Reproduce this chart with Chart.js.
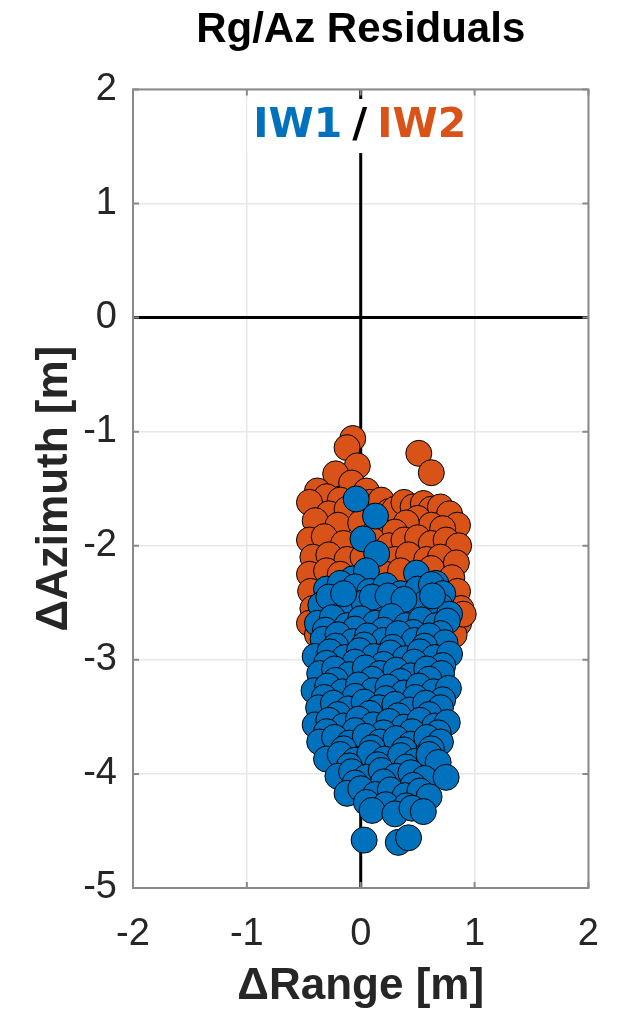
<!DOCTYPE html>
<html>
<head>
<meta charset="utf-8">
<script src="https://cdn.jsdelivr.net/npm/chart.js@4.4.1/dist/chart.umd.min.js"></script>
<style>
  html, body { margin: 0; padding: 0; background: #fff; }
  #wrap { width: 623px; height: 1009px; }
</style>
</head>
<body>
<div id="wrap"><canvas id="chart"></canvas></div>
<script>
// residuals, [range, azimuth] in metres
const iw1Range = [
  -0.04, 0.13, 0.02, 0.14, -0.07, 0.49, 0.66, 0.05,
  -0.3, -0.18, -0.05, 0.08, 0.22, 0.35, 0.5, 0.62, 0.72,
  -0.35, -0.22, -0.1, 0.03, 0.16, 0.3, 0.43, 0.57, 0.7, 0.78,
  -0.28, -0.15, 0.1, 0.24, 0.38, 0.63,
  -0.38, -0.25, -0.12, 0.0, 0.13, 0.27, 0.4, 0.53, 0.66, 0.76,
  -0.31, -0.05, 0.2, 0.46, 0.7,
  -0.33, -0.2, -0.07, 0.06, 0.2, 0.33, 0.47, 0.6, 0.74,
  -0.22, 0.03, 0.28, 0.56,
  -0.4, -0.27, -0.14, -0.01, 0.12, 0.26, 0.39, 0.52, 0.65, 0.78,
  -0.3, -0.05, 0.2, 0.47, 0.72,
  -0.36, -0.23, -0.1, 0.04, 0.17, 0.31, 0.44, 0.58, 0.71,
  -0.22, 0.1, 0.35, 0.6,
  -0.41, -0.29, -0.16, -0.02, 0.11, 0.24, 0.38, 0.51, 0.64, 0.77,
  -0.32, -0.05, 0.22, 0.48, 0.72,
  -0.37, -0.24, -0.11, 0.03, 0.16, 0.3, 0.43, 0.57, 0.7,
  -0.2, 0.08, 0.33, 0.6,
  -0.4, -0.28, -0.15, -0.02, 0.11, 0.25, 0.38, 0.52, 0.65, 0.76,
  -0.3, -0.05, 0.2, 0.45, 0.68,
  -0.36, -0.23, -0.1, 0.04, 0.17, 0.31, 0.44, 0.58, 0.7,
  -0.15, 0.1, 0.38, 0.62,
  -0.3, -0.18, -0.05, 0.08, 0.21, 0.35, 0.48, 0.6, 0.68,
  -0.1, 0.15, 0.4,
  -0.2, -0.08, 0.05, 0.18, 0.31, 0.44, 0.56, 0.75,
  -0.05, 0.2, 0.46,
  -0.12, 0.0, 0.13, 0.26, 0.39, 0.52, 0.6,
  0.05, 0.22, 0.4,
  0.1, 0.3, 0.45, 0.55,
  0.03, 0.33, 0.42
];
const iw1Azimuth = [
  -1.59, -1.74, -1.94, -2.07, -2.29, -2.24, -2.33, -2.22,
  -2.38, -2.33, -2.36, -2.4, -2.35, -2.42, -2.38, -2.34, -2.42,
  -2.52, -2.48, -2.55, -2.5, -2.53, -2.49, -2.55, -2.5, -2.53, -2.6,
  -2.45, -2.42, -2.45, -2.44, -2.47, -2.44,
  -2.68, -2.63, -2.7, -2.64, -2.68, -2.62, -2.7, -2.65, -2.7, -2.66,
  -2.74, -2.73, -2.74, -2.76, -2.77,
  -2.82, -2.78, -2.84, -2.79, -2.83, -2.77, -2.83, -2.79, -2.85,
  -2.88, -2.87, -2.89, -2.88,
  -2.97, -2.93, -2.98, -2.92, -2.97, -2.94, -2.99, -2.93, -2.98, -2.95,
  -3.03, -3.02, -3.04, -3.02, -3.05,
  -3.12, -3.08, -3.13, -3.07, -3.12, -3.09, -3.14, -3.08, -3.12,
  -3.18, -3.17, -3.19, -3.17,
  -3.27, -3.23, -3.28, -3.22, -3.27, -3.24, -3.29, -3.23, -3.28, -3.25,
  -3.33, -3.32, -3.34, -3.33, -3.35,
  -3.42, -3.38, -3.43, -3.37, -3.42, -3.39, -3.44, -3.38, -3.42,
  -3.48, -3.47, -3.49, -3.48,
  -3.57, -3.53, -3.58, -3.52, -3.57, -3.54, -3.59, -3.53, -3.58, -3.55,
  -3.63, -3.62, -3.64, -3.63, -3.64,
  -3.72, -3.68, -3.73, -3.67, -3.72, -3.69, -3.74, -3.68, -3.72,
  -3.78, -3.77, -3.79, -3.78,
  -3.87, -3.83, -3.88, -3.82, -3.87, -3.84, -3.89, -3.83, -3.9,
  -3.93, -3.92, -3.94,
  -4.02, -3.98, -4.03, -3.97, -4.02, -3.99, -4.04, -4.03,
  -4.08, -4.07, -4.1,
  -4.17, -4.13, -4.18, -4.14, -4.19, -4.15, -4.2,
  -4.25, -4.27, -4.28,
  -4.32, -4.35, -4.3, -4.33,
  -4.58, -4.6, -4.56
];
const iw2Range = [
  -0.07, -0.12, 0.51, 0.62,
  -0.03, -0.22, -0.08, 0.05, -0.38, -0.3, -0.18, -0.45, -0.28, -0.12, 0.08, 0.18, 0.25,
  -0.4, -0.2, 0.0, 0.15, 0.3, 0.38, 0.46, 0.55, 0.62, 0.7, 0.78, 0.85, 0.5, 0.62, 0.4, 0.3, 0.72,
  -0.45, -0.32, -0.15, 0.1, 0.25, 0.38, 0.5, 0.62, 0.75, 0.86,
  -0.42, -0.28, -0.12, 0.02, 0.3, 0.42, 0.58, 0.7, 0.84,
  -0.45, -0.3, -0.18, 0.22, 0.35, 0.62, 0.8,
  -0.44, -0.42, -0.45, -0.38, 0.85, 0.88, 0.86, 0.82, 0.9
];
const iw2Azimuth = [
  -1.06, -1.14, -1.19, -1.36,
  -1.3, -1.37, -1.45, -1.52, -1.52, -1.57, -1.6, -1.62, -1.72, -1.68, -1.62, -1.6, -1.7,
  -1.78, -1.82, -1.8, -1.82, -1.68, -1.62, -1.66, -1.63, -1.68, -1.66, -1.72, -1.82, -1.76, -1.82, -1.8, -1.88, -1.85,
  -1.95, -1.92, -1.98, -1.95, -2.0, -1.95, -1.93, -1.98, -1.95, -2.0,
  -2.1, -2.08, -2.12, -2.1, -2.12, -2.08, -2.12, -2.1, -2.15,
  -2.25, -2.22, -2.25, -2.25, -2.22, -2.2, -2.28,
  -2.4, -2.55, -2.68, -2.78, -2.4, -2.55, -2.68, -2.78, -2.6
];
const rangeTicks = [-2, -1, 0, 1, 2];
const azimuthTicks = [-5, -4, -3, -2, -1, 0, 1, 2];

const blue = "#0072BD";
const orange = "#D95319";

function toPoints(xs, ys) {
  return xs.map((x, i) => ({ x: x, y: ys[i] }));
}

// axes box, inward ticks, zero lines and the IW1/IW2 label like the matlab figure
const matlabAxes = {
  id: "matlabAxes",
  beforeDatasetsDraw(chart) {
    const { ctx, chartArea: a, scales } = chart;
    const x0 = scales.x.getPixelForValue(0);
    const y0 = scales.y.getPixelForValue(0);
    ctx.save();
    ctx.strokeStyle = "#000";
    ctx.lineWidth = 3;
    ctx.beginPath();
    ctx.moveTo(x0, a.top);
    ctx.lineTo(x0, a.bottom);
    ctx.moveTo(a.left, y0);
    ctx.lineTo(a.right, y0);
    ctx.stroke();

    ctx.font = "bold 41px 'DejaVu Sans'";
    ctx.textBaseline = "middle";
    const parts = [["IW1", blue], ["/", "#000"], ["IW2", orange]];
    const gap = 10;
    const total = parts.reduce((s, p) => s + ctx.measureText(p[0]).width, 0) + 2 * gap;
    let tx = x0 - total / 2 - 1;
    const ty = 126;
    ctx.fillStyle = "#fff";
    ctx.fillRect(tx - 6, ty - 27, total + 12, 54);
    parts.forEach(([t, c]) => {
      ctx.fillStyle = c;
      ctx.fillText(t, tx, ty);
      tx += ctx.measureText(t).width + gap;
    });
    ctx.restore();
  },
  afterDatasetsDraw(chart) {
    const { ctx, chartArea: a, scales } = chart;
    ctx.save();
    ctx.strokeStyle = "#8a8a8a";
    ctx.lineWidth = 2;
    ctx.strokeRect(a.left, a.top, a.right - a.left, a.bottom - a.top);
    ctx.beginPath();
    rangeTicks.forEach(v => {
      const px = scales.x.getPixelForValue(v);
      ctx.moveTo(px, a.bottom);
      ctx.lineTo(px, a.bottom - 6);
      ctx.moveTo(px, a.top);
      ctx.lineTo(px, a.top + 6);
    });
    azimuthTicks.forEach(v => {
      const py = scales.y.getPixelForValue(v);
      ctx.moveTo(a.left, py);
      ctx.lineTo(a.left + 6, py);
      ctx.moveTo(a.right, py);
      ctx.lineTo(a.right - 6, py);
    });
    ctx.stroke();
    ctx.restore();
  }
};

new Chart(document.getElementById("chart"), {
  type: "scatter",
  data: {
    datasets: [
      {
        label: "IW1",
        data: toPoints(iw1Range, iw1Azimuth),
        backgroundColor: blue,
        borderColor: "#000",
        borderWidth: 1,
        pointRadius: 13,
        order: 0,
      },
      {
        label: "IW2",
        data: toPoints(iw2Range, iw2Azimuth),
        backgroundColor: orange,
        borderColor: "#000",
        borderWidth: 1,
        pointRadius: 13,
        order: 1,
      },
    ],
  },
  options: {
    responsive: true,
    maintainAspectRatio: false,
    animation: false,
    layout: { padding: { left: 0, right: 33, top: 0, bottom: 0 } },
    plugins: {
      legend: { display: false },
      tooltip: { enabled: false },
      title: {
        display: true,
        fullSize: false,
        text: "Rg/Az Residuals",
        color: "#000",
        font: { family: "'Liberation Sans', Arial", size: 42, weight: "bold" },
        padding: { top: 5, bottom: 34 },
      },
    },
    scales: {
      x: {
        type: "linear",
        min: -2,
        max: 2,
        afterFit(scale) { scale.height = 121; },
        afterBuildTicks(scale) { scale.ticks = rangeTicks.map(v => ({ value: v })); },
        ticks: {
          color: "#262626",
          padding: 24,
          font: { family: "'Liberation Sans', Arial", size: 38 },
        },
        grid: { color: "#e8e8e8", lineWidth: 1.5, drawTicks: false },
        border: { display: false },
        title: {
          display: true,
          text: "\u0394Range [m]",
          color: "#262626",
          font: { family: "'Liberation Sans', Arial", size: 44, weight: "bold", lineHeight: 1 },
          padding: { top: 0, bottom: 0 },
        },
      },
      y: {
        type: "linear",
        min: -5,
        max: 2,
        afterFit(scale) { scale.width = 133; },
        afterBuildTicks(scale) { scale.ticks = azimuthTicks.map(v => ({ value: v })); },
        ticks: {
          color: "#262626",
          padding: 16,
          font: { family: "'Liberation Sans', Arial", size: 38 },
        },
        grid: { color: "#e8e8e8", lineWidth: 1.5, drawTicks: false },
        border: { display: false },
        title: {
          display: true,
          text: "\u0394Azimuth [m]",
          color: "#262626",
          font: { family: "'Liberation Sans', Arial", size: 44, weight: "bold", lineHeight: 1 },
          padding: { top: 33, bottom: 0 },
        },
      },
    },
  },
  plugins: [matlabAxes],
});
</script>
</body>
</html>
